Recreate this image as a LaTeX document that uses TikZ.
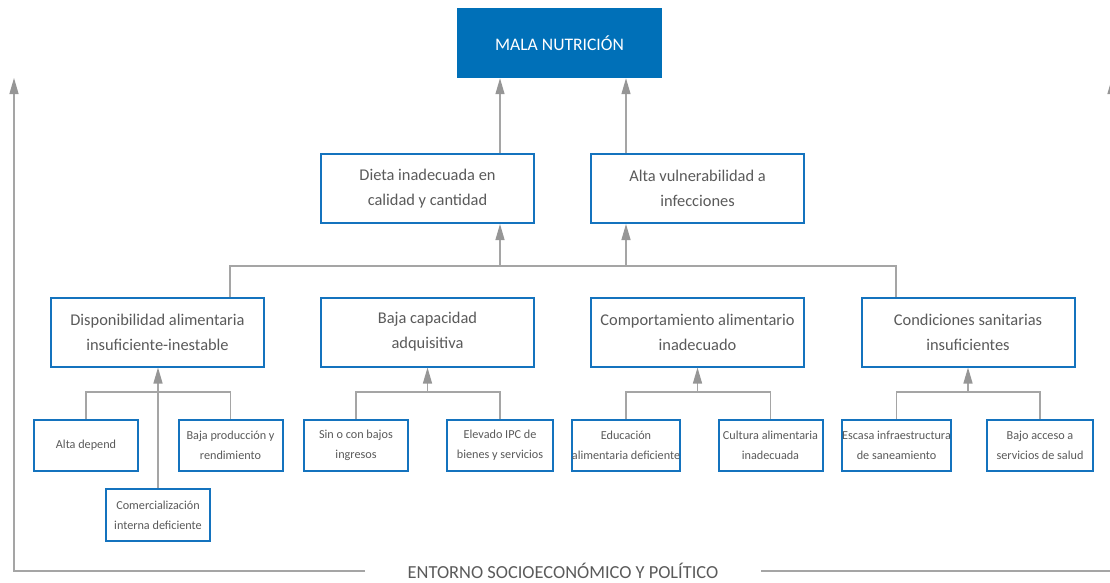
\documentclass[tikz,border=0pt]{standalone}
\usepackage{fontspec}
\setmainfont{Carlito}
\usetikzlibrary{arrows.meta}
\definecolor{mblue}{RGB}{0,112,184}
\definecolor{bblue}{RGB}{20,115,190}
\definecolor{tgray}{RGB}{90,90,90}
\definecolor{lgray}{RGB}{165,165,165}
\definecolor{agray}{RGB}{150,150,150}
\tikzset{
  bigbox/.style={draw=bblue, line width=2pt, fill=white, minimum width=213pt, minimum height=69pt, align=center, text=tgray, font=\fontsize{16.4}{25}\selectfont, inner sep=0pt},
  smallbox/.style={draw=bblue, line width=2pt, fill=white, minimum width=104pt, minimum height=51pt, align=center, text=tgray, font=\fontsize{12.2}{20}\selectfont, inner sep=0pt},
  topbox/.style={fill=mblue, minimum width=205pt, minimum height=70pt, text=white, font=\fontsize{17.6}{20}\selectfont, inner sep=0pt},
  ln/.style={draw=lgray, line width=1.3pt},
  arr/.style={draw=lgray, line width=1.3pt, -{Triangle[length=16pt,width=9pt,color=agray,fill=agray]}},
  envlabel/.style={text=tgray, font=\fontsize{18.4}{20}\selectfont, inner sep=0pt}
}
\begin{document}
\begin{tikzpicture}[x=1pt,y=-1pt]
\useasboundingbox (0,0) rectangle (1110,582);
% top
\node[topbox] (mala) at (559.5,43) {MALA NUTRICIÓN};
\node[bigbox] (dieta) at (427.5,188.5) {Dieta inadecuada en\\calidad y cantidad};
\node[bigbox] (alta) at (697.5,188.5) {Alta vulnerabilidad a\\infecciones};
% second row
\node[bigbox] (disp) at (157.5,332) {Disponibilidad alimentaria\\insuficiente-inestable};
\node[bigbox] (baja) at (427.5,332) {Baja capacidad\\adquisitiva};
\node[bigbox] (comp) at (697.5,332) {Comportamiento alimentario\\inadecuado};
\node[bigbox] (cond) at (968,332) {Condiciones sanitarias\\insuficientes};
% third row
\node[smallbox] (altad) at (86,445.5) {Alta depend};
\node[smallbox] (bajap) at (230.5,445.5) {Baja producción y\\rendimiento};
\node[smallbox, minimum height=52pt] (comer) at (158,515) {Comercialización\\interna deficiente};
\node[smallbox] (sin) at (356,445.5) {Sin o con bajos\\ingresos};
\node[smallbox, minimum width=106pt] (elev) at (500,445.5) {Elevado IPC de\\bienes y servicios};
\node[smallbox] (educ) at (626,445.5) {Educación\\alimentaria deficiente};
\node[smallbox] (cult) at (770.5,445.5) {Cultura alimentaria\\inadecuada};
\node[smallbox] (esc) at (896.5,445.5) {Escasa infraestructura\\de saneamiento};
\node[smallbox, minimum width=106pt] (bajoa) at (1040,445.5) {Bajo acceso a\\servicios de salud};
% level connectors
\coordinate (L) at (230,266);
\coordinate (R) at (896,266);
\coordinate (a1) at (500,266);
\coordinate (a2) at (626,266);
\draw[ln] (disp.north -| L) -- (L) -- (R) -- (cond.north -| R);
\draw[arr] (a1) -- (a1 |- dieta.south);
\draw[arr] (a2) -- (a2 |- alta.south);
\draw[arr] (dieta.north -| a1) -- (a1 |- mala.south);
\draw[arr] (alta.north -| a2) -- (a2 |- mala.south);
% group 1
\coordinate (g1) at (159,392);
\draw[ln] (altad.north) -- (altad.north |- g1) -- (bajap.north |- g1) -- (bajap.north);
\draw[arr] (comer.north) -- (comer.north |- disp.south);
% group 2
\coordinate (g2) at (427.5,392);
\draw[ln] (sin.north) -- (sin.north |- g2) -- (elev.north |- g2) -- (elev.north);
\draw[arr] (g2) -- (baja.south);
% group 3
\coordinate (g3) at (697.5,392);
\draw[ln] (educ.north) -- (educ.north |- g3) -- (cult.north |- g3) -- (cult.north);
\draw[arr] (g3) -- (comp.south);
% group 4
\coordinate (g4) at (968,392);
\draw[ln] (esc.north) -- (esc.north |- g4) -- (bajoa.north |- g4) -- (bajoa.north);
\draw[arr] (g4) -- (cond.south);
% environment frame
\node[envlabel] (env) at (563,571) {ENTORNO SOCIOECONÓMICO Y POLÍTICO};
\coordinate (bl) at (365,571);
\coordinate (br) at (761,571);
\coordinate (fl) at (14,571);
\coordinate (flt) at (14,78);
\coordinate (fr) at (1112,571);
\coordinate (frt) at (1112,78);
\draw[arr] (bl) -- (fl) -- (flt);
\draw[arr] (br) -- (fr) -- (frt);
\end{tikzpicture}
\end{document}
